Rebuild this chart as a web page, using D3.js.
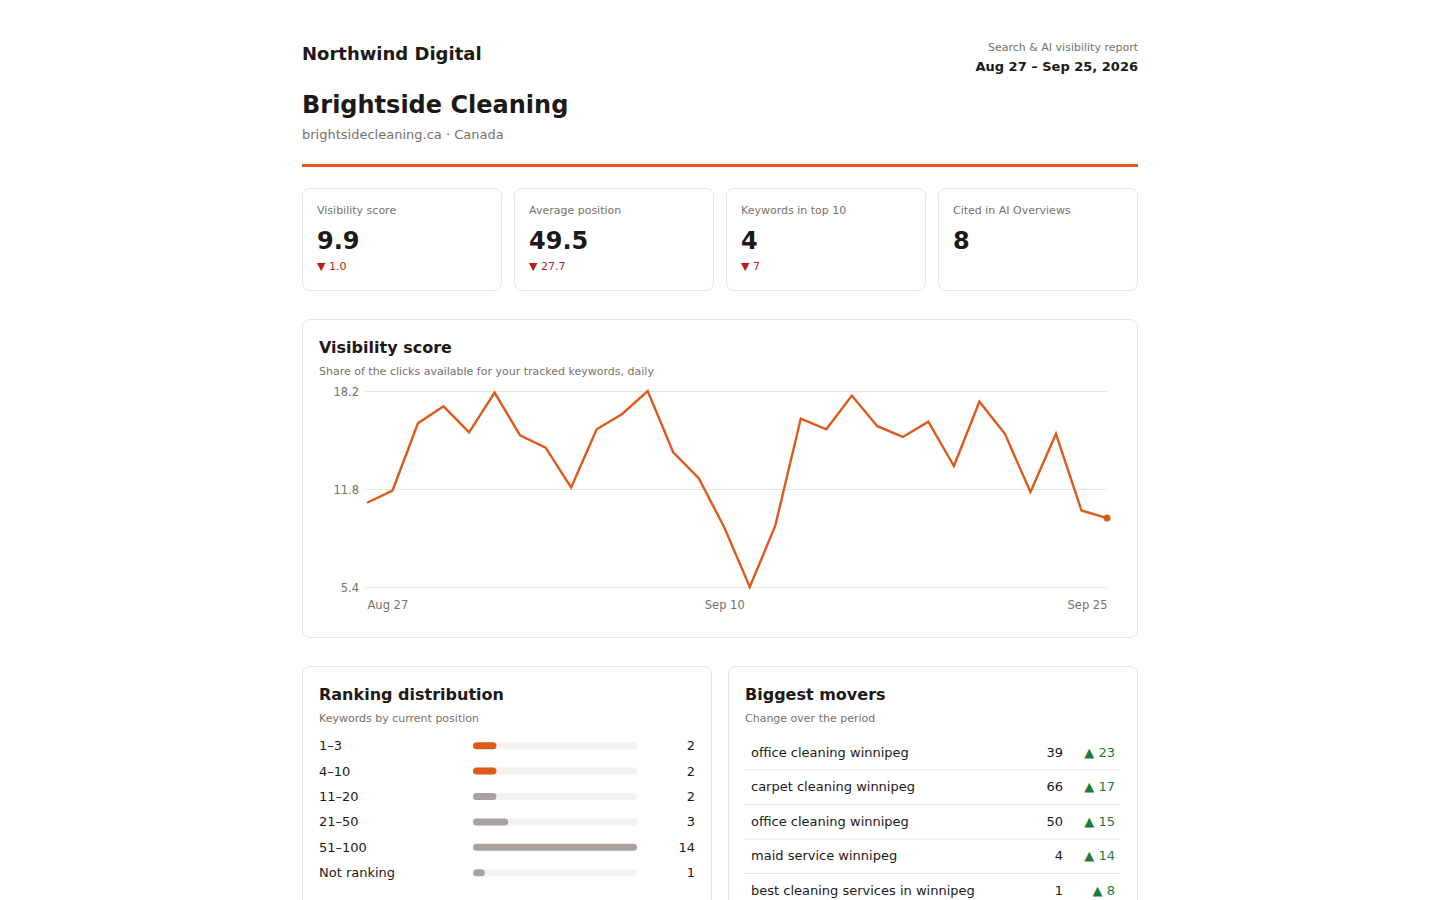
<!DOCTYPE html>
<html>
<head>
<meta charset="utf-8">
<script src="https://cdn.jsdelivr.net/npm/d3@7/dist/d3.min.js"></script>
<style>
  html, body { margin: 0; padding: 0; background: #fff; }
  body { font-family: "DejaVu Sans", sans-serif; color: #1c1917; width: 1440px; height: 900px; overflow: hidden; }
  #page { position: relative; width: 836px; margin-left: 302px; height: 900px; }
  .abs { position: absolute; white-space: nowrap; }
  .card { position: absolute; box-sizing: border-box; border: 1px solid #e7e5e4; border-radius: 8px; background: #fff; }
  svg text { font-family: "DejaVu Sans", sans-serif; }
</style>
</head>
<body>
<div id="page"></div>
<script>
// ---------- data ----------
const agency = "Northwind Digital";
const reportTitle = "Search & AI visibility report";
const reportRange = "Aug 27 – Sep 25, 2026";
const clientName = "Brightside Cleaning";
const clientSub = "brightsidecleaning.ca · Canada";

const kpiLabels = ["Visibility score", "Average position", "Keywords in top 10", "Cited in AI Overviews"];
const kpiValues = ["9.9", "49.5", "4", "8"];
const kpiDeltas = ["1.0", "27.7", "7", null];

const dates = ["2026-08-27","2026-08-28","2026-08-29","2026-08-30","2026-08-31","2026-09-01","2026-09-02","2026-09-03","2026-09-04","2026-09-05","2026-09-06","2026-09-07","2026-09-08","2026-09-09","2026-09-10","2026-09-11","2026-09-12","2026-09-13","2026-09-14","2026-09-15","2026-09-16","2026-09-17","2026-09-18","2026-09-19","2026-09-20","2026-09-21","2026-09-22","2026-09-23","2026-09-24","2026-09-25"];
const visibility = [10.9, 11.7, 16.1, 17.2, 15.5, 18.1, 15.3, 14.5, 11.9, 15.7, 16.7, 18.2, 14.2, 12.5, 9.3, 5.4, 9.4, 16.4, 15.7, 17.9, 15.9, 15.2, 16.2, 13.3, 17.5, 15.4, 11.6, 15.4, 10.4, 9.9];
const yTicks = [5.4, 11.8, 18.2];
const xTickDates = ["2026-08-27", "2026-09-10", "2026-09-25"];

const rankBuckets = ["1–3", "4–10", "11–20", "21–50", "51–100", "Not ranking"];
const rankCounts = [2, 2, 2, 3, 14, 1];
const rankTop = [true, true, false, false, false, false];

const moverKeywords = ["office cleaning winnipeg", "carpet cleaning winnipeg", "office cleaning winnipeg", "maid service winnipeg", "best cleaning services in winnipeg"];
const moverPositions = [39, 66, 50, 4, 1];
const moverChanges = [23, 17, 15, 14, 8];

// ---------- styles ----------
const ORANGE = "#dd5b1a", RED = "#b91c1c", GREEN = "#1e7b3c", DARK = "#1c1917", MUTED = "#78716c", GRID = "#e7e5e4";

const page = d3.select("#page");

function text(sel, str, o) {
  return sel.append("div").attr("class", "abs").text(str)
    .style("font-size", o.size + "px").style("line-height", o.size + "px")
    .style("top", (o.cy - o.size / 2) + "px")
    .style(o.right != null ? "right" : "left", (o.right != null ? o.right : o.left) + "px")
    .style("font-weight", o.bold ? "bold" : "normal")
    .style("color", o.color || DARK);
}

// header
text(page, agency, {size: 18, cy: 53.5, left: 0, bold: true});
text(page, reportTitle, {size: 11, cy: 47, right: 0, color: MUTED});
text(page, reportRange, {size: 13, cy: 66.5, right: 0, bold: true});
text(page, clientName, {size: 24, cy: 104.5, left: 0, bold: true});
text(page, clientSub, {size: 13, cy: 134, left: 0, color: MUTED});
page.append("div").attr("class", "abs").style("left", "0px").style("top", "164px")
  .style("width", "836px").style("height", "3px").style("background", ORANGE);

// KPI cards
const kpiW = 200, kpiGap = 12;
kpiLabels.forEach((lab, i) => {
  const c = page.append("div").attr("class", "card")
    .style("left", (i * (kpiW + kpiGap)) + "px").style("top", "188px")
    .style("width", kpiW + "px").style("height", "103px");
  text(c, lab, {size: 11, cy: 21, left: 14, color: MUTED});
  text(c, kpiValues[i], {size: 24, cy: 52, left: 14, bold: true});
  if (kpiDeltas[i] != null) text(c, "▼ " + kpiDeltas[i], {size: 11, cy: 77, left: 14, color: RED});
});

// ---------- Visibility chart ----------
const chartCard = page.append("div").attr("class", "card")
  .style("left", "0px").style("top", "319px").style("width", "836px").style("height", "319px");
text(chartCard, "Visibility score", {size: 16, cy: 27.5, left: 16, bold: true});
text(chartCard, "Share of the clicks available for your tracked keywords, daily", {size: 11, cy: 51, left: 16, color: MUTED});

const svg = chartCard.append("svg").attr("width", 834).attr("height", 317)
  .style("position", "absolute").style("left", "0px").style("top", "0px");
const parse = d3.timeParse("%Y-%m-%d");
const pts = dates.map((d, i) => ({date: parse(d), v: visibility[i]}));
const x = d3.scaleTime().domain(d3.extent(pts, d => d.date)).range([64, 804]);
const y = d3.scaleLinear().domain([d3.min(yTicks), d3.max(yTicks)]).range([267, 71]);

const yAxis = svg.append("g").attr("transform", "translate(64,0)")
  .call(d3.axisLeft(y).tickValues(yTicks).tickSize(0).tickPadding(8).tickFormat(d3.format(".1f")));
yAxis.select(".domain").remove();
yAxis.selectAll(".tick line").attr("stroke", GRID).attr("x1", -2).attr("x2", 740);
yAxis.selectAll("text").attr("fill", MUTED).attr("font-size", 11.5).attr("dy", "0.35em");
yAxis.attr("font-family", null);

const fmtTick = d3.timeFormat("%b %-d");
const xAxis = svg.append("g").attr("transform", "translate(0,267)")
  .call(d3.axisBottom(x).tickValues(xTickDates.map(parse)).tickSize(0).tickPadding(18).tickFormat(fmtTick));
xAxis.select(".domain").remove();
xAxis.selectAll("text").attr("fill", MUTED).attr("font-size", 11.5).attr("dy", "0.35em")
  .attr("text-anchor", (d, i, n) => i === 0 ? "start" : (i === n.length - 1 ? "end" : "middle"));
xAxis.attr("font-family", null);

svg.append("path").datum(pts)
  .attr("fill", "none").attr("stroke", ORANGE).attr("stroke-width", 2.4).attr("stroke-linejoin", "miter")
  .attr("d", d3.line().x(d => x(d.date)).y(d => y(d.v)));
const last = pts[pts.length - 1];
svg.append("circle").attr("cx", x(last.date)).attr("cy", y(last.v)).attr("r", 3.5).attr("fill", ORANGE);

// ---------- Ranking distribution ----------
const rankCard = page.append("div").attr("class", "card")
  .style("left", "0px").style("top", "666px").style("width", "410px").style("height", "260px");
text(rankCard, "Ranking distribution", {size: 16, cy: 27.5, left: 16, bold: true});
text(rankCard, "Keywords by current position", {size: 11, cy: 51, left: 16, color: MUTED});
const rsvg = rankCard.append("svg").attr("width", 408).attr("height", 258)
  .style("position", "absolute").style("left", "0px").style("top", "0px");
const ry = d3.scaleBand().domain(rankBuckets).range([67, 219.4]);
const rx = d3.scaleLinear().domain([0, d3.max(rankCounts)]).range([0, 164]);
const rrow = rsvg.selectAll("g.row").data(rankBuckets).join("g")
  .attr("transform", d => `translate(0,${ry(d) + ry.bandwidth() / 2 - 1})`);
rrow.append("text").attr("x", 16).attr("dy", "0.35em").attr("font-size", 13).attr("fill", DARK).text(d => d);
rrow.append("rect").attr("x", 170).attr("y", -3.5).attr("height", 7).attr("rx", 3.5)
  .attr("width", rx.range()[1]).attr("fill", "#f3f2f1");
rrow.append("rect").attr("x", 170).attr("y", -3.5).attr("height", 7).attr("rx", 3.5)
  .attr("width", (d, i) => rx(rankCounts[i])).attr("fill", (d, i) => rankTop[i] ? ORANGE : "#a8a29e");
rrow.append("text").attr("x", 392).attr("dy", "0.35em").attr("text-anchor", "end").attr("font-size", 13)
  .attr("fill", DARK).text((d, i) => rankCounts[i]);

// ---------- Biggest movers ----------
const movCard = page.append("div").attr("class", "card")
  .style("left", "426px").style("top", "666px").style("width", "410px").style("height", "260px");
text(movCard, "Biggest movers", {size: 16, cy: 27.5, left: 16, bold: true});
text(movCard, "Change over the period", {size: 11, cy: 51, left: 16, color: MUTED});
const msvg = movCard.append("svg").attr("width", 408).attr("height", 258)
  .style("position", "absolute").style("left", "0px").style("top", "0px");
const idx = moverKeywords.map((d, i) => i);
const my = d3.scaleBand().domain(idx).range([68, 68 + 34.5 * idx.length]);
const mrow = msvg.selectAll("g.row").data(idx).join("g")
  .attr("transform", i => `translate(0,${my(i)})`);
mrow.filter(i => i > 0).append("line").attr("x1", 15).attr("x2", 391).attr("y1", 0.5).attr("y2", 0.5)
  .attr("stroke", GRID);
mrow.append("text").attr("x", 22).attr("y", my.bandwidth() / 2).attr("dy", "0.35em").attr("font-size", 13)
  .attr("fill", DARK).text(i => moverKeywords[i]);
mrow.append("text").attr("x", 334).attr("y", my.bandwidth() / 2).attr("dy", "0.35em").attr("text-anchor", "end")
  .attr("font-size", 13).attr("fill", DARK).text(i => moverPositions[i]);
mrow.append("text").attr("x", 386).attr("y", my.bandwidth() / 2).attr("dy", "0.35em").attr("text-anchor", "end")
  .attr("font-size", 13).attr("fill", GREEN).text(i => "▲ " + moverChanges[i]);
</script>
</body>
</html>
